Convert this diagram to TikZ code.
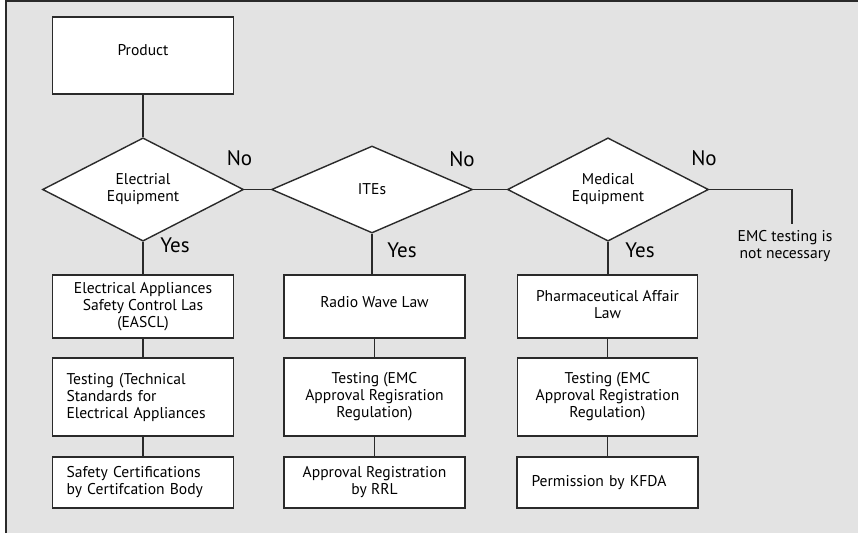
\documentclass[tikz,border=0pt]{standalone}
\usepackage{fontspec}
\setmainfont{PT Sans}
\usetikzlibrary{shapes.geometric}
\definecolor{bggray}{HTML}{E3E3E3}
\definecolor{ink}{HTML}{2A2A2A}
\newcommand{\boxfont}{\fontsize{15.6}{17}\selectfont}
\newcommand{\lblfont}{\fontsize{21}{22}\selectfont}
\tikzset{
  boxnode/.style={draw=ink, fill=white, line width=1.2pt, minimum width=181pt, inner sep=2pt, align=center, font=\boxfont},
  leftbox/.style={boxnode, align=left, text width=153pt, inner xsep=14pt},
  decision/.style={draw=ink, fill=white, line width=1.4pt, diamond, minimum width=201pt, minimum height=87pt, inner sep=0pt, align=center, font=\boxfont},
  conn/.style={draw=ink, line width=1.2pt},
  lbl/.style={font=\lblfont, inner sep=0pt},
}
\begin{document}
\begin{tikzpicture}[x=1pt,y=-1pt]
\useasboundingbox (0,0) rectangle (858,533);
\fill[white] (0,0) rectangle (858,533);
\fill[bggray] (5,1) rectangle (858,533);
\draw[ink, line width=2pt] (6,533) -- (6,1) -- (858,1);

\node[boxnode, minimum height=77pt, text depth=12pt] (prod) at (143,55.5) {Product};

\node[decision] (d1) at (143,189.5) {Electrial\\Equipment};
\node[decision] (d2) at (372,189.5) {ITEs};
\node[decision] (d3) at (608,189.5) {Medical\\Equipment};

\node[boxnode, minimum height=63pt] (a1) at (143,306.5) {Electrical Appliances\\Safety Control Las\\(EASCL)};
\node[leftbox, minimum height=78pt] (a2) at (143,397) {Testing (Technical\\Standards for\\Electrical Appliances};
\node[leftbox, minimum height=51pt] (a3) at (143,482.5) {Safety Certifications\\by Certifcation Body};

\node[boxnode, minimum height=63pt, text depth=9pt] (b1) at (374.5,306.5) {Radio Wave Law};
\node[boxnode, minimum height=78pt] (b2) at (374.5,397) {Testing (EMC\\Approval Regisration\\Regulation)};
\node[boxnode, minimum height=51pt] (b3) at (374.5,482.5) {Approval Registration\\by RRL};

\node[boxnode, minimum width=180pt, minimum height=63pt, text depth=4pt] (c1) at (607.5,306.5) {Pharmaceutical Affair\\Law};
\node[boxnode, minimum width=180pt, minimum height=78pt] (c2) at (607.5,397) {Testing (EMC\\Approval Registration\\Regulation)};
\node[leftbox, text width=152pt, minimum height=51pt] (c3) at (607.5,482.5) {Permission by KFDA};

\node[font=\boxfont, align=center, inner sep=0pt, anchor=north] (emc) at (785,230) {EMC testing is\\not necessary};
\coordinate (emctop) at (792,224);

\node[lbl] (no1) at (239.5,158.5) {No};
\node[lbl] (no2) at (462,159) {No};
\node[lbl] (no3) at (704,158) {No};
\node[lbl] (yes1) at (175,245) {Yes};
\node[lbl] (yes2) at (402,250) {Yes};
\node[lbl] (yes3) at (640,250) {Yes};

\draw[conn] (prod.south) -- (d1.north);
\draw[conn] (d1.east) -- (d2.west);
\draw[conn] (d2.east) -- (d3.west);
\draw[conn] (d3.east) -| (emctop);
\draw[conn] (d1.south) -- (d1.south |- a1.north);
\draw[conn] (a1) -- (a2);
\draw[conn] (a2) -- (a3);
\draw[conn] (d2.south) -- (d2.south |- b1.north);
\draw[conn] (b1.south) -- (b1.south |- b2.north);
\draw[conn] (b2) -- (b3);
\draw[conn] (d3.south) -- (d3.south |- c1.north);
\draw[conn] (c1) -- (c2);
\draw[conn] (c2) -- (c3);
\end{tikzpicture}
\end{document}
